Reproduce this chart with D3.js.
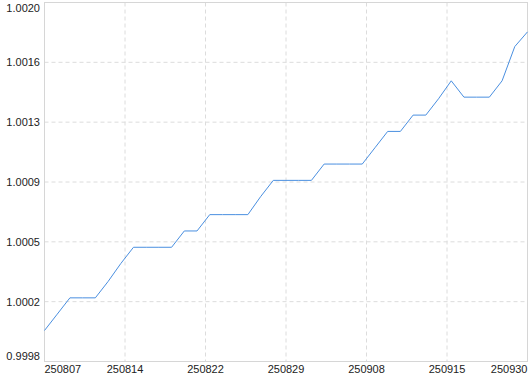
<!DOCTYPE html>
<html>
<head>
<meta charset="utf-8">
<script src="https://cdn.jsdelivr.net/npm/d3@7/dist/d3.min.js"></script>
<style>
  body { margin: 0; background: #fff; }
  svg { display: block; font-family: "Liberation Sans", Arial, sans-serif; }
</style>
</head>
<body>
<div id="chart"></div>
<script>

// one entry per reported day
var dates = [
  "250807", "250808", "250810", "250811", "250812", "250813", "250814",
  "250815", "250817", "250818", "250819", "250820", "250821", "250822",
  "250824", "250825", "250826", "250827", "250828", "250829",
  "250901", "250902", "250903", "250904", "250905", "250908",
  "250909", "250910", "250911", "250912", "250913", "250914", "250915",
  "250917", "250919", "250922", "250924", "250926", "250930"
];

var navValues = [
  0.99999, 1.00009, 1.00019, 1.00019, 1.00019, 1.00029, 1.00040,
  1.00050, 1.00050, 1.00050, 1.00050, 1.00060, 1.00060, 1.00070,
  1.00070, 1.00070, 1.00070, 1.00081, 1.00091, 1.00091,
  1.00091, 1.00091, 1.00101, 1.00101, 1.00101, 1.00101,
  1.00111, 1.00121, 1.00121, 1.00131, 1.00131, 1.00141, 1.00152,
  1.00142, 1.00142, 1.00142, 1.00152, 1.00173, 1.00182
];

var yDomain = [0.9998, 1.0020];
var divisions = 6;


function drawChart(containerSelectorString) {
  var width = 530, height = 374;
  var left = 44.5, right = 527.5, top = 2.5, bottom = 361.5;

  var svg = d3.select(containerSelectorString)
    .append("svg").attr("width", width).attr("height", height);

  var x = d3.scaleLinear().domain([0, dates.length - 1]).range([left, right]);
  var y = d3.scaleLinear().domain(yDomain).range([bottom, top]);

  var xTicks = d3.range(divisions + 1).map(function(k) { return k * (dates.length - 1) / divisions; });
  var yTicks = d3.range(divisions + 1).map(function(k) { return yDomain[0] + k * (yDomain[1] - yDomain[0]) / divisions; });

  // dashed grid, inner ticks only
  svg.append("g").selectAll("line")
    .data(yTicks.slice(1, -1)).enter().append("line")
    .attr("x1", left).attr("x2", right)
    .attr("y1", function(d) { return y(d); }).attr("y2", function(d) { return y(d); })
    .attr("stroke", "#dcdcdc").attr("stroke-dasharray", "4,3");

  svg.append("g").selectAll("line")
    .data(xTicks.slice(1, -1)).enter().append("line")
    .attr("y1", top).attr("y2", bottom)
    .attr("x1", function(d) { return x(d); }).attr("x2", function(d) { return x(d); })
    .attr("stroke", "#dcdcdc").attr("stroke-dasharray", "4,3");

  svg.append("rect")
    .attr("x", left).attr("y", top)
    .attr("width", right - left).attr("height", bottom - top)
    .attr("fill", "none").attr("stroke", "#d6d6d6");

  var line = d3.line()
    .x(function(d, i) { return x(i); })
    .y(function(d) { return y(d); });

  svg.append("path")
    .datum(navValues)
    .attr("d", line)
    .attr("fill", "none")
    .attr("stroke", "#4a8fe0")
    .attr("stroke-width", 1);

  // y labels: first sits on the bottom edge, last hangs from the top edge
  svg.append("g").selectAll("text")
    .data(yTicks).enter().append("text")
    .attr("x", 40)
    .attr("y", function(d) { return y(d); })
    .attr("dy", function(d, i) {
      if (i == 0) return -1.5;
      if (i == yTicks.length - 1) return 9;
      return 4;
    })
    .attr("text-anchor", "end")
    .attr("font-size", "11px")
    .attr("fill", "#222")
    .text(d3.format(".4f"));

  svg.append("g").selectAll("text")
    .data(xTicks).enter().append("text")
    .attr("x", function(d) { return x(d); })
    .attr("y", 372.5)
    .attr("text-anchor", function(d, i) {
      if (i == 0) return "start";
      if (i == xTicks.length - 1) return "end";
      return "middle";
    })
    .attr("font-size", "11px")
    .attr("fill", "#222")
    .text(function(d) { return dates[Math.round(d)]; });
}

drawChart("#chart");
</script>
</body>
</html>
